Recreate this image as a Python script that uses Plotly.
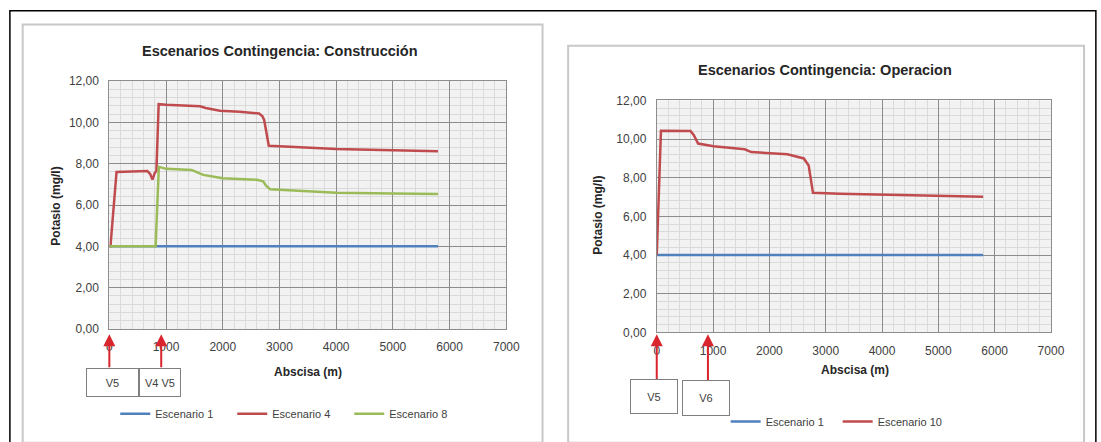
import plotly.graph_objects as go

# ---------------- data ----------------
left_title = "Escenarios Contingencia: Construcción"
right_title = "Escenarios Contingencia: Operacion"
x_axis_title = "Abscisa (m)"
y_axis_title = "Potasio (mg/l)"

x_ticks = [0, 1000, 2000, 3000, 4000, 5000, 6000, 7000]
x_tick_labels = ["0", "1000", "2000", "3000", "4000", "5000", "6000", "7000"]
y_ticks = [0, 2, 4, 6, 8, 10, 12]
y_tick_labels = ["0,00", "2,00", "4,00", "6,00", "8,00", "10,00", "12,00"]

# Left chart (Construcción)
esc1_left_x = [0, 5795]
esc1_left_y = [4.0, 4.0]
esc4_x = [0, 20, 127, 670, 720, 760, 800, 830, 870, 1000, 1600, 1700, 1950, 2300,
          2640, 2700, 2730, 2780, 2812, 3000, 3500, 4000, 5000, 5795]
esc4_y = [4.0, 4.0, 7.6, 7.65, 7.5, 7.23, 7.55, 7.65, 10.88, 10.85, 10.78, 10.7, 10.56, 10.52,
          10.43, 10.3, 10.12, 9.3, 8.87, 8.84, 8.78, 8.71, 8.65, 8.6]
esc8_x = [0, 816, 873, 1000, 1450, 1655, 2000, 2600, 2713, 2760, 2837, 3000, 3500, 4000, 5000, 5795]
esc8_y = [4.0, 4.0, 7.85, 7.75, 7.7, 7.46, 7.3, 7.22, 7.15, 6.95, 6.76, 6.74, 6.68, 6.6, 6.56, 6.53]

# Right chart (Operacion)
esc1_right_x = [0, 5795]
esc1_right_y = [4.0, 4.0]
esc10_x = [0, 75, 600, 659, 734, 1008, 1562, 1678, 2320, 2611, 2698, 2774, 3252, 3974, 5000, 5795]
esc10_y = [4.0, 10.43, 10.42, 10.2, 9.77, 9.63, 9.47, 9.33, 9.22, 9.0, 8.63, 7.22, 7.17, 7.13, 7.07, 7.02]

left_names = ["Escenario 1", "Escenario 4", "Escenario 8"]
right_names = ["Escenario 1", "Escenario 10"]

left_marker_x = [0, 915]
left_marker_labels = ["V5", "V4 V5"]
right_marker_x = [0, 909]
right_marker_labels = ["V5", "V6"]

# ---------------- layout helpers ----------------
W, H = 1101, 442
def PX(x):
    return x / W
def PY(y):
    return 1 - y / H

BLUE = "#4f81bd"
RED = "#bf4b4e"
GREEN = "#9bbb59"
FONT = "Liberation Sans, Arial, sans-serif"
TXT = "#404040"

fig = go.Figure()

fig.add_trace(go.Scatter(x=esc1_left_x, y=esc1_left_y, mode="lines", name=left_names[0],
                         line=dict(color=BLUE, width=2.5), xaxis="x", yaxis="y", legend="legend"))
fig.add_trace(go.Scatter(x=esc4_x, y=esc4_y, mode="lines", name=left_names[1],
                         line=dict(color=RED, width=2.5), xaxis="x", yaxis="y", legend="legend"))
fig.add_trace(go.Scatter(x=esc8_x, y=esc8_y, mode="lines", name=left_names[2],
                         line=dict(color=GREEN, width=2.5), xaxis="x", yaxis="y", legend="legend"))
fig.add_trace(go.Scatter(x=esc1_right_x, y=esc1_right_y, mode="lines", name=right_names[0],
                         line=dict(color=BLUE, width=2.5), xaxis="x2", yaxis="y2", legend="legend2"))
fig.add_trace(go.Scatter(x=esc10_x, y=esc10_y, mode="lines", name=right_names[1],
                         line=dict(color=RED, width=2.5), xaxis="x2", yaxis="y2", legend="legend2"))

def xaxis(domain, anchor):
    return dict(domain=domain, anchor=anchor, range=[0, 7000], tickmode="array",
                tickvals=x_ticks, ticktext=x_tick_labels, showgrid=True,
                gridcolor="#8c8c8c", gridwidth=1,
                minor=dict(tickmode="linear", tick0=0, dtick=200, showgrid=True,
                           gridcolor="#dadada", gridwidth=1),
                ticks="", ticklabelstandoff=7, tickfont=dict(size=12, color=TXT, family=FONT),
                showline=True, mirror=True, linecolor="#8c8c8c", linewidth=1,
                zeroline=False, fixedrange=True)

def yaxis(domain, anchor):
    return dict(domain=domain, anchor=anchor, range=[0, 12], tickmode="array",
                tickvals=y_ticks, ticktext=y_tick_labels, showgrid=True,
                gridcolor="#8c8c8c", gridwidth=1,
                minor=dict(tickmode="linear", tick0=0, dtick=0.4, showgrid=True,
                           gridcolor="#dadada", gridwidth=1),
                ticks="", ticklabelstandoff=7, tickfont=dict(size=12, color=TXT, family=FONT),
                showline=True, mirror=True, linecolor="#8c8c8c", linewidth=1,
                zeroline=False, fixedrange=True)

def label(text, cx, cy, size, angle=0, color="#262626"):
    return dict(text=text, x=PX(cx), y=PY(cy), xref="paper", yref="paper",
                xanchor="center", yanchor="middle", showarrow=False, textangle=angle,
                font=dict(size=size, color=color, family=FONT))

annotations = []
annotations.append(label("<b>" + left_title + "</b>", 281, 45, 14.5))
annotations.append(label("<b>" + right_title + "</b>", 835, 65, 14.5))
for (cx, cy) in [(310, 377), (865, 375)]:
    annotations.append(label("<b>" + x_axis_title + "</b>", cx, cy, 12))
for (cx, cy) in [(54, 206), (605, 215)]:
    annotations.append(label("<b>" + y_axis_title + "</b>", cx, cy, 12, angle=-90))

# marker arrows + boxes
left_boxes = [(85, 138, 373, 402), (138, 180, 373, 402)]
right_boxes = [(637, 685, 385, 420), (690, 738, 386, 422)]
for xs, labels, boxes, xr, tip in [(left_marker_x, left_marker_labels, left_boxes, "x", 338),
                                   (right_marker_x, right_marker_labels, right_boxes, "x2", 338)]:
    for xv, lab, (bx0, bx1, by0, by1) in zip(xs, labels, boxes):
        annotations.append(dict(text=" ", x=xv, xref=xr, y=PY(tip), yref="paper",
                                showarrow=True, ax=0, ay=by0 - tip, axref="pixel", ayref="pixel",
                                arrowcolor="#d9262e", arrowwidth=2, arrowhead=2, arrowsize=1.2,
                                standoff=0, startstandoff=0, font=dict(size=1)))
        annotations.append(dict(text=lab, x=PX((bx0 + bx1) / 2), y=PY((by0 + by1) / 2),
                                xref="paper", yref="paper", xanchor="center", yanchor="middle",
                                showarrow=False,
                                width=bx1 - bx0 - 2, height=by1 - by0 - 2,
                                bordercolor="#7f7f7f", borderwidth=1, borderpad=0, bgcolor="white",
                                font=dict(size=11, color=TXT, family=FONT)))

shapes = [
    dict(type="rect", xref="paper", yref="paper", x0=PX(7), y0=PY(4), x1=PX(1110), y1=PY(450),
         line=dict(color="#000000", width=1.5)),
    dict(type="rect", xref="paper", yref="paper", x0=PX(20), y0=PY(18), x1=PX(548), y1=PY(450),
         line=dict(color="#c8c8c8", width=2)),
    dict(type="rect", xref="paper", yref="paper", x0=PX(574), y0=PY(40), x1=PX(1098), y1=PY(450),
         line=dict(color="#c8c8c8", width=2)),
]

fig.update_layout(
    width=W, height=H, autosize=False,
    margin=dict(l=0, r=0, t=0, b=0),
    paper_bgcolor="white", plot_bgcolor="#f2f2f2",
    font=dict(family=FONT, color=TXT),
    xaxis=xaxis([PX(108), PX(511.2)], "y"),
    yaxis=yaxis([PY(332.5), PY(76.5)], "x"),
    xaxis2=xaxis([PX(664), PX(1064.4)], "y2"),
    yaxis2=yaxis([PY(336), PY(96.5)], "x2"),
    legend=dict(orientation="h", x=PX(114), y=PY(420), xanchor="left", yanchor="middle",
                font=dict(size=11, color=TXT, family=FONT), entrywidth=72, entrywidthmode="pixels",
                bgcolor="rgba(0,0,0,0)", tracegroupgap=0),
    legend2=dict(orientation="h", x=PX(734), y=PY(428), xanchor="left", yanchor="middle",
                 font=dict(size=11, color=TXT, family=FONT), entrywidth=67, entrywidthmode="pixels",
                 bgcolor="rgba(0,0,0,0)"),
    annotations=annotations,
    shapes=shapes,
)

fig.write_html("out.html", config={"displayModeBar": False},
               post_script="document.body.style.margin='0';document.body.style.overflow='hidden';")
